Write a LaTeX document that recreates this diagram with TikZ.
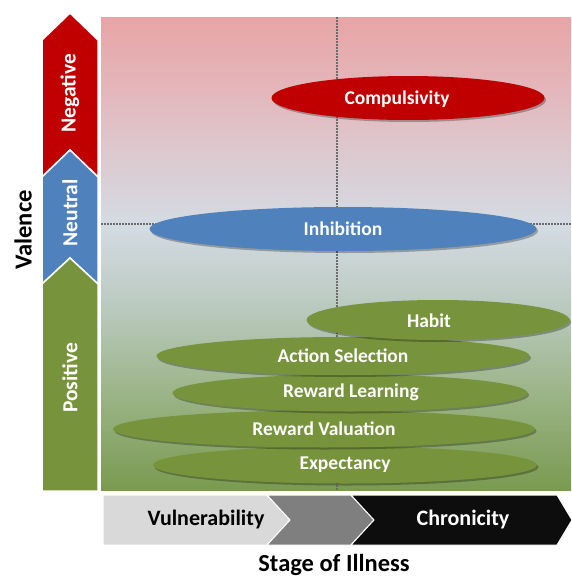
\documentclass[tikz,border=0pt]{standalone}
\usepackage{fontspec}
\setmainfont{Carlito}
\usetikzlibrary{shapes.geometric}
\definecolor{cred}{HTML}{C00000}
\definecolor{cblue}{HTML}{4F81BD}
\definecolor{cgreen}{HTML}{77933C}
\definecolor{clgray}{HTML}{D9D9D9}
\definecolor{cmgray}{HTML}{7F7F7F}
\definecolor{cblack}{HTML}{0D0D0D}
\definecolor{bgA}{HTML}{7A9A50}
\definecolor{bgB}{HTML}{98B180}
\definecolor{bgC}{HTML}{BCCBC2}
\definecolor{bgD}{HTML}{D4DBE3}
\definecolor{bgE}{HTML}{DDC8CE}
\definecolor{bgF}{HTML}{E4B5B9}
\definecolor{bgG}{HTML}{E8A4A6}
\pgfdeclareverticalshading{panelshade}{100bp}{color(0bp)=(bgA); color(25bp)=(bgA); color(34bp)=(bgB); color(45bp)=(bgC); color(53bp)=(bgD); color(61bp)=(bgE); color(68bp)=(bgF); color(75bp)=(bgG); color(100bp)=(bgG)}
\tikzset{
  ell/.style={ellipse, inner sep=0pt, text=white, font=\bfseries\fontsize{19.5}{22}\selectfont,
    preaction={fill=black, opacity=0.28, transform canvas={shift={(1.5,2)}}}},
  dotline/.style={draw=gray!85!black, line width=1.6pt, dash pattern=on 1.6pt off 1.4pt},
  armlabel/.style={rotate=90, text=white, font=\bfseries\fontsize{21.5}{24}\selectfont},
  stagelabel/.style={font=\bfseries\fontsize{22}{24}\selectfont},
  axislabel/.style={font=\bfseries\fontsize{24.5}{27}\selectfont},
  armshape/.style={draw=white, line width=1.5pt, line join=miter},
}
\begin{document}
\begin{tikzpicture}[x=1pt,y=-1pt]
\useasboundingbox (0,0) rectangle (572,578);
% background panel
\node[name=panel, rectangle, inner sep=0pt, minimum width=470pt, minimum height=473pt, anchor=north west, shading=panelshade] at (101,17) {};
% dotted guide lines
\coordinate (vt) at (337,17);
\coordinate (vb) at (337,490);
\coordinate (hl) at (101,224);
\coordinate (hr) at (571,224);
\draw[dotline] (vt) -- (vb);
\draw[dotline] (hl) -- (hr);
% ellipses (bottom first)
\node[ell, fill=cgreen, minimum width=384pt, minimum height=37pt] (expe) at (345,465) {};
\node[ell, fill=cgreen, minimum width=422pt, minimum height=37pt] (rval) at (324,429) {};
\node[ell, fill=cgreen, minimum width=355pt, minimum height=37pt] (rlrn) at (350,393) {};
\node[ell, fill=cgreen, minimum width=373pt, minimum height=38pt] (asel) at (343,356) {};
\node[ell, fill=cgreen, minimum width=263pt, minimum height=40pt] (habit) at (438,320) {};
\node[ell, fill=cblue, minimum width=387pt, minimum height=44pt] (inhib) at (343,229) {};
\node[ell, fill=cred, minimum width=273pt, minimum height=44pt] (comp) at (408,98) {};
\node[text=white, font=\bfseries\fontsize{19.5}{22}\selectfont] (expeT) at (345,465) {Expectancy};
\node[text=white, font=\bfseries\fontsize{19.5}{22}\selectfont] (rvalT) at (324,429) {Reward Valuation};
\node[text=white, font=\bfseries\fontsize{19.5}{22}\selectfont] (rlrnT) at (351,392) {Reward Learning};
\node[text=white, font=\bfseries\fontsize{19.5}{22}\selectfont] (aselT) at (343,356) {Action Selection};
\node[text=white, font=\bfseries\fontsize{19.5}{22}\selectfont] (habitT) at (429,321) {Habit};
\node[text=white, font=\bfseries\fontsize{19.5}{22}\selectfont] (inhibT) at (343,229) {Inhibition};
\node[text=white, font=\bfseries\fontsize{19.5}{22}\selectfont] (compT) at (397,99) {Compulsivity};
% valence arrows
\fill[cred, armshape] (42,40) -- (70,13) -- (98,40) -- (98,177) -- (70,150) -- (42,177) -- cycle;
\fill[cblue, armshape] (42,177) -- (70,150) -- (98,177) -- (98,284) -- (70,258) -- (42,284) -- cycle;
\fill[cgreen, armshape] (42,284) -- (70,258) -- (98,284) -- (98,491) -- (42,491) -- cycle;
\node[armlabel] (neg) at (70,93) {Negative};
\node[armlabel] (neu) at (70,213) {Neutral};
\node[armlabel] (pos) at (70,378) {Positive};
\node[axislabel, rotate=90] (val) at (23,230) {Valence};
% stage chevrons
\fill[clgray, draw=white, line width=1pt] (103,495) -- (267,495) -- (290,520) -- (267,545) -- (103,545) -- cycle;
\fill[cmgray, draw=white, line width=1pt] (267,495) -- (351,495) -- (374,520) -- (351,545) -- (267,545) -- (290,520) -- cycle;
\fill[cblack, draw=white, line width=1pt] (351,495) -- (557,495) -- (572,520) -- (557,545) -- (351,545) -- (374,520) -- cycle;
\node[stagelabel] (vul) at (206,520) {Vulnerability};
\node[stagelabel, text=white] (chr) at (463,520) {Chronicity};
\node[axislabel] (stage) at (334,565) {Stage of Illness};
\end{tikzpicture}
\end{document}
